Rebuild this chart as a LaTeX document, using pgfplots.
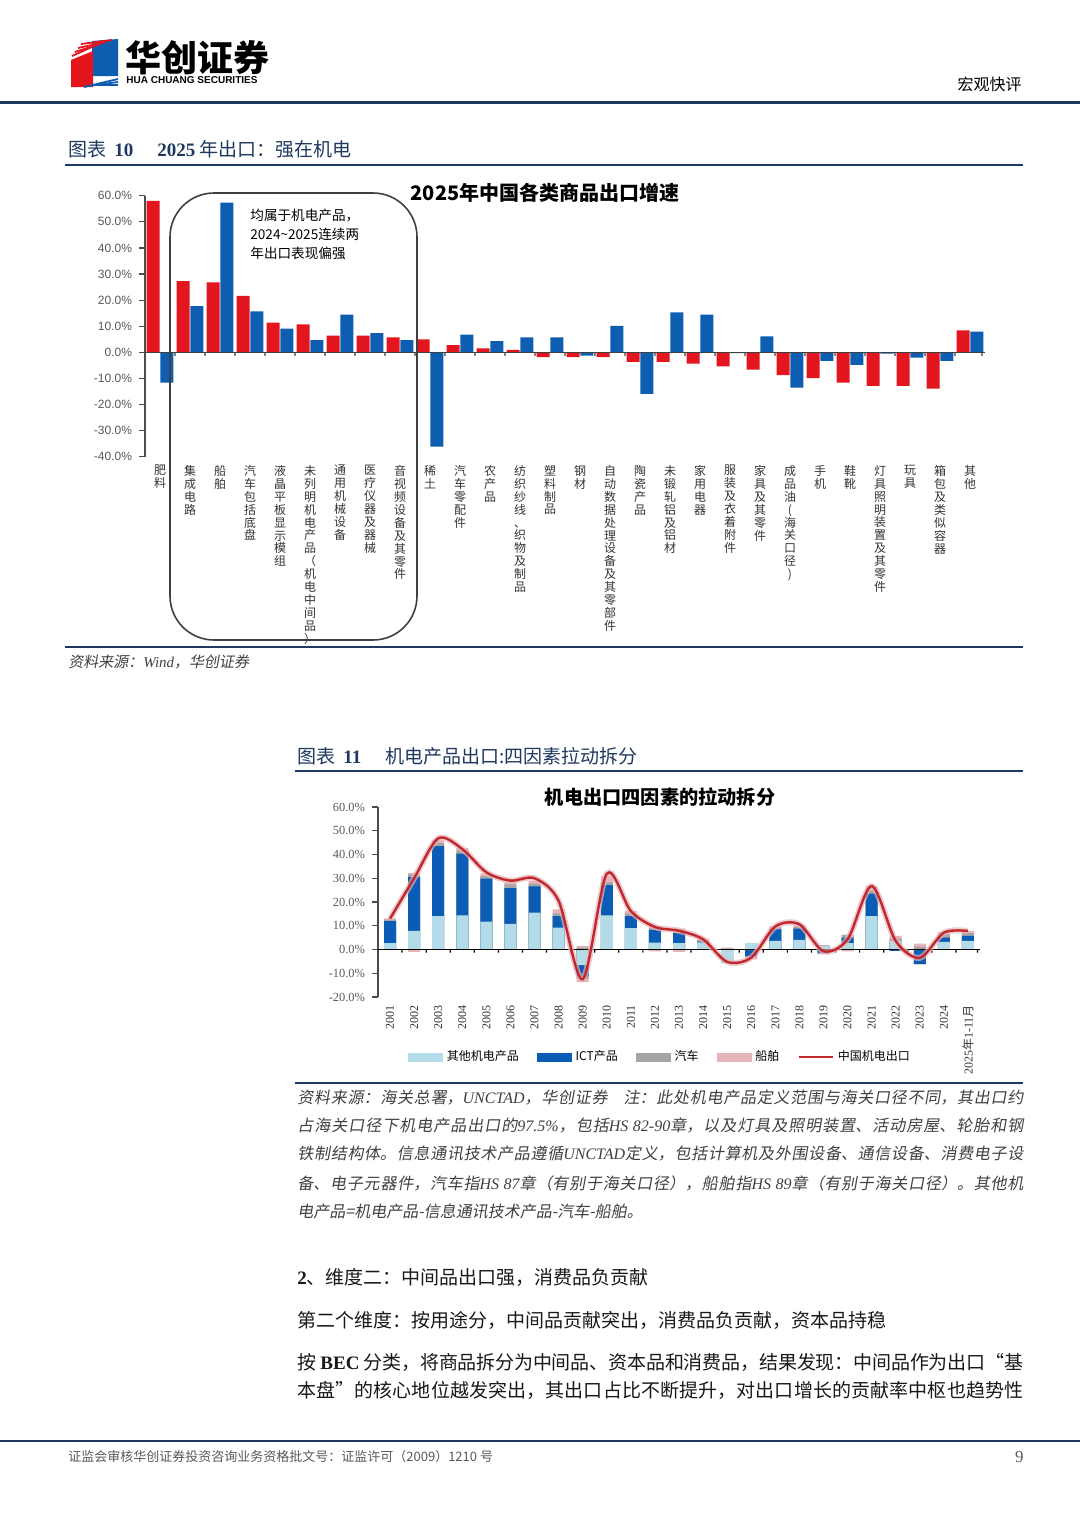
\documentclass[border=0pt]{standalone}
\usepackage{fontspec}
\usepackage{pgfplots}
\pgfplotsset{compat=1.18}
\usepackage{pgfplotstable}
\setmainfont{Liberation Serif}
\newfontfamily\cjk{Noto Sans CJK SC}
\newfontfamily\cjkit[FakeSlant=0.18]{Noto Sans CJK SC}
\newfontfamily\arial{Liberation Sans}
\XeTeXlinebreaklocale "zh"
\XeTeXlinebreakskip=0pt plus 1.5pt minus 0.2pt

\definecolor{navy}{HTML}{1F3A60}
\definecolor{cR}{HTML}{E3151F}
\definecolor{cB}{HTML}{0D5DB0}
\definecolor{cOther}{HTML}{B3DCE8}
\definecolor{cICT}{HTML}{0B5CB5}
\definecolor{cAuto}{HTML}{A5A5A5}
\definecolor{cShip}{HTML}{E6B4B8}
\definecolor{cLine}{HTML}{C1272D}
\definecolor{tgray}{HTML}{595959}

\makeatletter
\def\vt@a#1{\ifx\@nil#1\else\hbox to 1em{\hss#1\hss}\expandafter\vt@a\fi}
\newcommand\vtext[1]{\vbox{\baselineskip=1.08em\lineskip=0pt\lineskiplimit=-5pt\vt@a#1\@nil}}
\makeatother
\newcommand\lt[1]{{\rmfamily\itshape #1}}
\newcommand\jline[1]{\parbox{363pt}{\parfillskip=0pt\relax #1}}

\pgfplotstableread{
i r b
0 58.0 -11.6
1 27.3 17.7
2 26.8 57.4
3 21.6 15.7
4 11.4 9.1
5 10.7 4.7
6 6.4 14.4
7 6.4 7.4
8 5.7 4.7
9 5.0 -36.1
10 2.8 6.8
11 1.5 4.3
12 0.9 5.7
13 -1.8 5.7
14 -1.8 -1.3
15 -1.8 10.1
16 -3.7 -15.9
17 -3.7 15.3
18 -4.3 14.4
19 -5.4 -0.3
20 -6.6 6.1
21 -8.7 -13.5
22 -9.9 -3.3
23 -11.6 -4.8
24 -12.9 -0.5
25 -12.9 -2.0
26 -13.9 -3.3
27 8.4 7.9
}\exptab

\pgfplotstableread{
x p1 p2 p3 p4 n1 n2 n3 n4 tot
0 2.7 12.0 12.6 13.1 0 0 0 0 13.0
1 7.8 30.5 31.6 32.3 0 0 0 -1.0 30.0
2 14.1 43.5 44.9 46.0 0 0 0 0 46.8
3 14.4 40.4 41.7 42.7 0 0 0 0 42.3
4 11.7 29.8 30.9 32.0 0 0 0 0 32.5
5 10.8 25.9 27.4 28.4 0 0 0 0 29.0
6 15.5 26.6 27.7 28.8 0 0 0 0 30.0
7 9.2 14.1 15.2 16.9 0 0 0 0 20.5
8 0 0 0.8 1.5 -6.6 -11.3 -12.4 -13.6 -12.5
9 14.4 27.1 28.3 30.8 0 0 0 0 31.9
10 9.0 14.1 15.2 16.2 0 0 0 0 16.2
11 2.9 8.3 9.0 9.9 0 0 0 -0.8 9.5
12 2.7 6.9 8.0 8.8 0 0 0 -1.0 7.9
13 3.0 3.3 4.0 4.6 0 0 0 0 4.3
14 0 0 0.4 0.8 -5.5 -5.5 -5.5 -5.5 -5.2
15 2.7 2.7 2.7 2.7 0 -2.8 -3.3 -4.2 -3.4
16 3.6 8.5 9.2 9.9 0 0 0 0 9.7
17 4.1 8.8 9.5 10.2 0 0 0 0 10.6
18 1.5 1.5 1.5 1.8 0 -1.3 -1.6 -2.0 -0.7
19 2.7 5.0 6.2 6.2 0 0 0 -0.8 4.3
20 14.1 23.5 24.6 26.7 0 0 0 0 26.7
21 3.5 3.5 4.6 5.7 0 -0.6 -0.6 -0.6 3.6
22 0 0 1.2 2.5 0 -6.2 -6.2 -6.2 -3.5
23 3.2 5.0 6.4 7.4 0 0 0 0 7.1
24 3.6 5.7 6.9 7.8 0 0 0 0 7.8
}\mechtab

\begin{document}
\begin{tikzpicture}
\begin{scope}[x=0.5pt,y=-0.5pt]
\path[use as bounding box] (0,0) rectangle (1080,1527);
\fill[white] (0,0) rectangle (1080,1527);
% logo
\fill[cB] (92,41) -- (118,39) -- (118,76) -- (92,76) -- cycle;
\fill[cR] (71,60) -- (93,51) -- (93,87) -- (71,87) -- cycle;
\foreach \k in {0,1,2,3} {\draw[cR, line width=0.9pt] ({72+\k*3},{56-\k*4}) -- ({94+\k*6},{46-\k*2});}
\foreach \k in {0,1,2} {\draw[cB, line width=0.9pt] ({84+\k*4},{87-\k*1}) -- (118,{79+\k*3});}
\node[anchor=west, inner sep=0pt] at (125,58) {\cjk\bfseries\fontsize{18}{20}\selectfont 华创证券};
\node[anchor=west, inner sep=0pt] at (126,80) {\arial\bfseries\fontsize{5}{6}\selectfont HUA CHUANG SECURITIES};
\node[anchor=east, inner sep=0pt] at (1022,84) {\cjk\fontsize{8}{9}\selectfont 宏观快评};
\draw[navy, line width=1.5pt] (0,102) -- (1080,102);
% heading 1
\node[anchor=west, inner sep=0pt, text=navy] at (68,149) {\fontsize{9.5}{11}\selectfont{\cjk 图表}\hspace{4pt}{\bfseries 10}\hspace{12pt}{\bfseries 2025}\hspace{2pt}{\cjk 年出口：强在机电}};
\draw[navy, line width=1pt] (65,165) -- (1023,165);
\draw[navy, line width=0.8pt] (65,647) -- (1023,647);
\node[anchor=west, inner sep=0pt, text=black!75] at (68,662) {\cjkit\fontsize{7.5}{9}\selectfont 资料来源：\lt{Wind}，华创证券};
% heading 2
\node[anchor=west, inner sep=0pt, text=navy] at (297,756) {\fontsize{9.5}{11}\selectfont{\cjk 图表}\hspace{4pt}{\bfseries 11}\hspace{12pt}{\cjk 机电产品出口:四因素拉动拆分}};
\draw[navy, line width=1pt] (295,771) -- (1023,771);
\draw[navy, line width=0.8pt] (295,1083) -- (1023,1083);
% notes
\begin{scope}[every node/.style={anchor=west, inner sep=0pt, text=black!75}]
\node at (297,1098) {\cjkit\fontsize{8}{9}\selectfont\jline{资料来源：海关总署，\lt{UNCTAD}，华创证券\quad 注：此处机电产品定义范围与海关口径不同，其出口约}};
\node at (297,1126) {\cjkit\fontsize{8}{9}\selectfont\jline{占海关口径下机电产品出口的\lt{97.5\%}，包括\lt{HS 82-90}章，以及灯具及照明装置、活动房屋、轮胎和钢}};
\node at (297,1154) {\cjkit\fontsize{8}{9}\selectfont\jline{铁制结构体。信息通讯技术产品遵循\lt{UNCTAD}定义，包括计算机及外围设备、通信设备、消费电子设}};
\node at (297,1183) {\cjkit\fontsize{8}{9}\selectfont\jline{备、电子元器件，汽车指\lt{HS 87}章（有别于海关口径），船舶指\lt{HS 89}章（有别于海关口径）。其他机}};
\node at (297,1211) {\cjkit\fontsize{8}{9}\selectfont 电产品=机电产品-信息通讯技术产品-汽车-船舶。};
\end{scope}
% body
\begin{scope}[every node/.style={anchor=west, inner sep=0pt, text=black!90}]
\node at (297,1277) {\fontsize{9.5}{11}\selectfont{\bfseries 2}{\cjk 、维度二：中间品出口强，消费品负贡献}};
\node at (297,1320) {\cjk\fontsize{9.5}{11}\selectfont 第二个维度：按用途分，中间品贡献突出，消费品负贡献，资本品持稳};
\node at (297,1362) {\fontsize{9.5}{11}\selectfont\jline{{\cjk 按} \textbf{BEC} {\cjk 分类，将商品拆分为中间品、资本品和消费品，结果发现：中间品作为出口“基}}};
\node at (297,1390) {\cjk\fontsize{9.5}{11}\selectfont\jline{本盘”的核心地位越发突出，其出口占比不断提升，对出口增长的贡献率中枢也趋势性}};
\end{scope}
% footer
\draw[navy, line width=1.2pt] (0,1441) -- (1080,1441);
\node[anchor=west, inner sep=0pt, text=black!65] at (68,1457) {\cjk\fontsize{6.5}{8}\selectfont 证监会审核华创证券投资咨询业务资格批文号：证监许可（2009）1210 号};
\node[anchor=east, inner sep=0pt, text=black!65] at (1024,1457) {\fontsize{8.5}{10}\selectfont 9};
% chart titles
\node[inner sep=0pt] at (545,193) {\cjk\bfseries\fontsize{10}{12}\selectfont 2025年中国各类商品出口增速};
\node[inner sep=0pt] at (660,797) {\cjk\bfseries\fontsize{9.6}{12}\selectfont 机电出口四因素的拉动拆分};
\end{scope}

% ---------- chart 1 ----------
\begin{axis}[
  at={(72.5pt,-228.35pt)}, anchor=south west,
  scale only axis, width=420pt, height=130.5pt,
  xmin=-0.5, xmax=27.5, ymin=-40, ymax=60,
  axis y line*=left, axis x line*=bottom,
  x axis line style={draw=none},
  xtick={0,...,27}, xtick style={draw=none},
  xticklabels={\vtext{肥料},\vtext{集成电路},\vtext{船舶},\vtext{汽车包括底盘},\vtext{液晶平板显示模组},\vtext{未列明机电产品（机电中间品）},\vtext{通用机械设备},\vtext{医疗仪器及器械},\vtext{音视频设备及其零件},\vtext{稀土},\vtext{汽车零配件},\vtext{农产品},\vtext{纺织纱线、织物及制品},\vtext{塑料制品},\vtext{钢材},\vtext{自动数据处理设备及其零部件},\vtext{陶瓷产品},\vtext{未锻轧铝及铝材},\vtext{家用电器},\vtext{服装及衣着附件},\vtext{家具及其零件},\vtext{成品油(海关口径)},\vtext{手机},\vtext{鞋靴},\vtext{灯具照明装置及其零件},\vtext{玩具},\vtext{箱包及类似容器},\vtext{其他}},
  xticklabel style={anchor=north, font=\cjk\fontsize{6}{6}\selectfont, text=black!80, inner sep=1pt},
  ytick={-40,-30,...,60},
  /pgf/number format/assume math mode=true,
  yticklabel={\pgfmathprintnumber[fixed,fixed zerofill,precision=1]{\tick}\%},
  yticklabel style={font=\arial\fontsize{6}{7}\selectfont, text=tgray},
  y axis line style={black!70, line width=0.6pt},
  ytick style={black!70, line width=0.6pt},
  tick align=outside, major tick length=3pt,
  clip=false,
]
\addplot[ybar, bar width=6.5pt, bar shift=-3.4pt, fill=cR, draw=none] table[x=i, y=r] {\exptab};
\addplot[ybar, bar width=6.5pt, bar shift=3.4pt, fill=cB, draw=none] table[x=i, y=b] {\exptab};
\addplot[black!75, line width=0.6pt] coordinates {(-0.5,0) (27.5,0)};
\addplot[ybar, bar width=0.6pt, bar shift=0pt, fill=black!75, draw=none] coordinates {(0.5,-1.4) (1.5,-1.4) (2.5,-1.4) (3.5,-1.4) (4.5,-1.4) (5.5,-1.4) (6.5,-1.4) (7.5,-1.4) (8.5,-1.4) (9.5,-1.4) (10.5,-1.4) (11.5,-1.4) (12.5,-1.4) (13.5,-1.4) (14.5,-1.4) (15.5,-1.4) (16.5,-1.4) (17.5,-1.4) (18.5,-1.4) (19.5,-1.4) (20.5,-1.4) (21.5,-1.4) (22.5,-1.4) (23.5,-1.4) (24.5,-1.4) (25.5,-1.4) (26.5,-1.4) (27.4,-1.4)};
\end{axis}

% box and annotation
\begin{scope}[x=0.5pt,y=-0.5pt]
\draw[black!75, line width=0.8pt, rounded corners=22pt] (170,193) rectangle (417,640);
\node[anchor=north west, inner sep=0pt, align=left, font=\cjk\fontsize{6.8}{9.5}\selectfont] at (250,209) {均属于机电产品，\\2024\string~2025连续两\\年出口表现偏强};
\end{scope}

% ---------- chart 2 ----------
\begin{axis}[
  at={(189pt,-498.5pt)}, anchor=south west,
  scale only axis, width=301pt, height=95pt,
  xmin=-0.5, xmax=24.5, ymin=-20, ymax=60,
  axis y line*=left, axis x line*=bottom,
  x axis line style={draw=none},
  xtick={0,...,24}, xtick style={draw=none},
  xticklabels={2001,2002,2003,2004,2005,2006,2007,2008,2009,2010,2011,2012,2013,2014,2015,2016,2017,2018,2019,2020,2021,2022,2023,2024,{2025{\cjk 年}1-11{\cjk 月}}},
  xticklabel style={rotate=90, anchor=east, font=\fontsize{6}{7}\selectfont, text=black!80, inner sep=1pt},
  ytick={-20,-10,...,60},
  /pgf/number format/assume math mode=true,
  yticklabel={\pgfmathprintnumber[fixed,fixed zerofill,precision=1]{\tick}\%},
  yticklabel style={font=\fontsize{6.2}{7}\selectfont, text=tgray},
  y axis line style={black!70, line width=0.6pt},
  ytick style={black!70, line width=0.6pt},
  tick align=outside, major tick length=3pt,
  clip=false,
  legend style={at={(0.47,-0.316)}, anchor=center, draw=none, fill=none, legend columns=5,
    font=\cjk\fontsize{6}{7}\selectfont, /tikz/every even column/.append style={column sep=7pt}},
]
\addplot[ybar, bar width=6pt, bar shift=0pt, fill=cShip, draw=none, forget plot] table[x=x, y=p4] {\mechtab};
\addplot[ybar, bar width=6pt, bar shift=0pt, fill=cAuto, draw=none, forget plot] table[x=x, y=p3] {\mechtab};
\addplot[ybar, bar width=6pt, bar shift=0pt, fill=cICT, draw=none, forget plot] table[x=x, y=p2] {\mechtab};
\addplot[ybar, bar width=6pt, bar shift=0pt, fill=cOther, draw=none, forget plot] table[x=x, y=p1] {\mechtab};
\addplot[ybar, bar width=6pt, bar shift=0pt, fill=cShip, draw=none, forget plot] table[x=x, y=n4] {\mechtab};
\addplot[ybar, bar width=6pt, bar shift=0pt, fill=cAuto, draw=none, forget plot] table[x=x, y=n3] {\mechtab};
\addplot[ybar, bar width=6pt, bar shift=0pt, fill=cICT, draw=none, forget plot] table[x=x, y=n2] {\mechtab};
\addplot[ybar, bar width=6pt, bar shift=0pt, fill=cOther, draw=none, forget plot] table[x=x, y=n1] {\mechtab};
\addplot[black, line width=0.6pt, forget plot] coordinates {(-0.5,0) (24.5,0)};
\addplot[ybar, bar width=0.6pt, bar shift=0pt, fill=black, draw=none, forget plot] coordinates {(0.5,-1.3) (1.5,-1.3) (2.5,-1.3) (3.5,-1.3) (4.5,-1.3) (5.5,-1.3) (6.5,-1.3) (7.5,-1.3) (8.5,-1.3) (9.5,-1.3) (10.5,-1.3) (11.5,-1.3) (12.5,-1.3) (13.5,-1.3) (14.5,-1.3) (15.5,-1.3) (16.5,-1.3) (17.5,-1.3) (18.5,-1.3) (19.5,-1.3) (20.5,-1.3) (21.5,-1.3) (22.5,-1.3) (23.5,-1.3) (24.4,-1.3)};
\addplot[smooth, cShip, line width=3pt, opacity=0.7, forget plot] table[x=x, y=tot] {\mechtab};
\addplot[smooth, cLine, line width=1.2pt, forget plot] table[x=x, y=tot] {\mechtab};
\addlegendimage{legend image code/.code={\fill[cOther] (0pt,-2pt) rectangle (17pt,2pt);}}
\addlegendentry{其他机电产品}
\addlegendimage{legend image code/.code={\fill[cICT] (0pt,-2pt) rectangle (17pt,2pt);}}
\addlegendentry{ICT产品}
\addlegendimage{legend image code/.code={\fill[cAuto] (0pt,-2pt) rectangle (17pt,2pt);}}
\addlegendentry{汽车}
\addlegendimage{legend image code/.code={\fill[cShip] (0pt,-2pt) rectangle (17pt,2pt);}}
\addlegendentry{船舶}
\addlegendimage{legend image code/.code={\draw[cLine, line width=1.2pt] (0pt,0pt) -- (17pt,0pt);}}
\addlegendentry{中国机电出口}
\end{axis}
\end{tikzpicture}
\end{document}
